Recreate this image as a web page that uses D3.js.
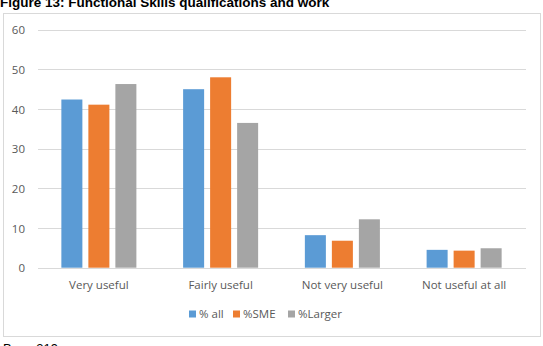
<!DOCTYPE html>
<html><head><meta charset="utf-8">
<script src="https://cdn.jsdelivr.net/npm/d3@7"></script>
<style>body{margin:0;background:#fff;}svg{display:block;}</style>
</head><body>
<svg id="c" width="543" height="346"></svg>
<script>
const categories = ["Very useful", "Fairly useful", "Not very useful", "Not useful at all"];
const seriesNames = ["% all", "%SME", "%Larger"];
const allValues = [42.4, 45.0, 8.2, 4.5];
const smeValues = [41.1, 48.0, 6.8, 4.3];
const largerValues = [46.3, 36.5, 12.2, 4.9];
const yTicks = [0, 10, 20, 30, 40, 50, 60];
const colors = ["#5B9BD5", "#ED7D31", "#A5A5A5"];
const seriesValues = [allValues, smeValues, largerValues];

const svg = d3.select("#c");
const font = "Calibri, Carlito, 'Open Sans', 'Liberation Sans', sans-serif";

// title (cut off at top)
svg.append("text").attr("x", 0).attr("y", 7)
  .attr("font-family", "'Liberation Sans', Arial, sans-serif").attr("font-weight", "bold")
  .attr("font-size", 13.5).attr("fill", "#000")
  .text("Figure 13: Functional Skills qualifications and work");

// frame
svg.append("rect").attr("x", 3.5).attr("y", 13.5).attr("width", 537).attr("height", 323)
  .attr("fill", "#fff").attr("stroke", "#D9D9D9").attr("stroke-width", 1);

const y = d3.scaleLinear().domain([0, 60]).range([267.7, 29.7]);
const x0 = d3.scaleBand().domain(categories).range([38, 525]).paddingInner(0).paddingOuter(0);
const x1 = d3.scaleBand().domain(seriesNames).range([0, x0.bandwidth()]).paddingInner(0.222).paddingOuter(0.865);

// gridlines
svg.append("g").selectAll("line").data(yTicks).join("line")
  .attr("x1", 38).attr("x2", 526)
  .attr("y1", d => Math.round(y(d)) + 0.5).attr("y2", d => Math.round(y(d)) + 0.5)
  .attr("stroke", "#D9D9D9").attr("stroke-width", 1);

// y tick labels
svg.append("g").selectAll("text").data(yTicks).join("text")
  .attr("x", 25).attr("y", d => y(d) + 4.5).attr("text-anchor", "end")
  .attr("font-family", "'Open Sans', sans-serif").attr("font-size", 11.5).attr("fill", "#595959")
  .text(d => d);

// bars
const groups = svg.append("g").selectAll("g").data(categories).join("g")
  .attr("transform", d => `translate(${x0(d)},0)`);
groups.selectAll("rect").data((c, i) => seriesNames.map((s, j) => ({s, j, v: seriesValues[j][i]})))
  .join("rect")
  .attr("x", d => x1(d.s)).attr("width", x1.bandwidth())
  .attr("y", d => y(d.v)).attr("height", d => y(0) - y(d.v))
  .attr("fill", d => colors[d.j]);

// category labels
svg.append("g").selectAll("text").data(categories).join("text")
  .attr("x", d => x0(d) + x0.bandwidth() / 2).attr("y", 289)
  .attr("text-anchor", "middle")
  .attr("font-family", "'Open Sans', sans-serif").attr("font-size", 11.5).attr("fill", "#595959")
  .text(d => d);

// legend
const legendX = [189, 233, 288];
const lg = svg.append("g").selectAll("g").data(seriesNames).join("g")
  .attr("transform", (d, i) => `translate(${legendX[i]},310.5)`);
lg.append("rect").attr("width", 7).attr("height", 7).attr("fill", (d, i) => colors[i]);
lg.append("text").attr("x", 10).attr("y", 7.5)
  .attr("font-family", "'Open Sans', sans-serif").attr("font-size", 11.5).attr("fill", "#595959")
  .text(d => d);

// base note (cut off at bottom)
svg.append("text").attr("x", 3).attr("y", 353)
  .attr("font-family", "'Liberation Sans', Arial, sans-serif").attr("font-size", 13).attr("fill", "#000")
  .text("Base 319");
</script>
</body></html>
